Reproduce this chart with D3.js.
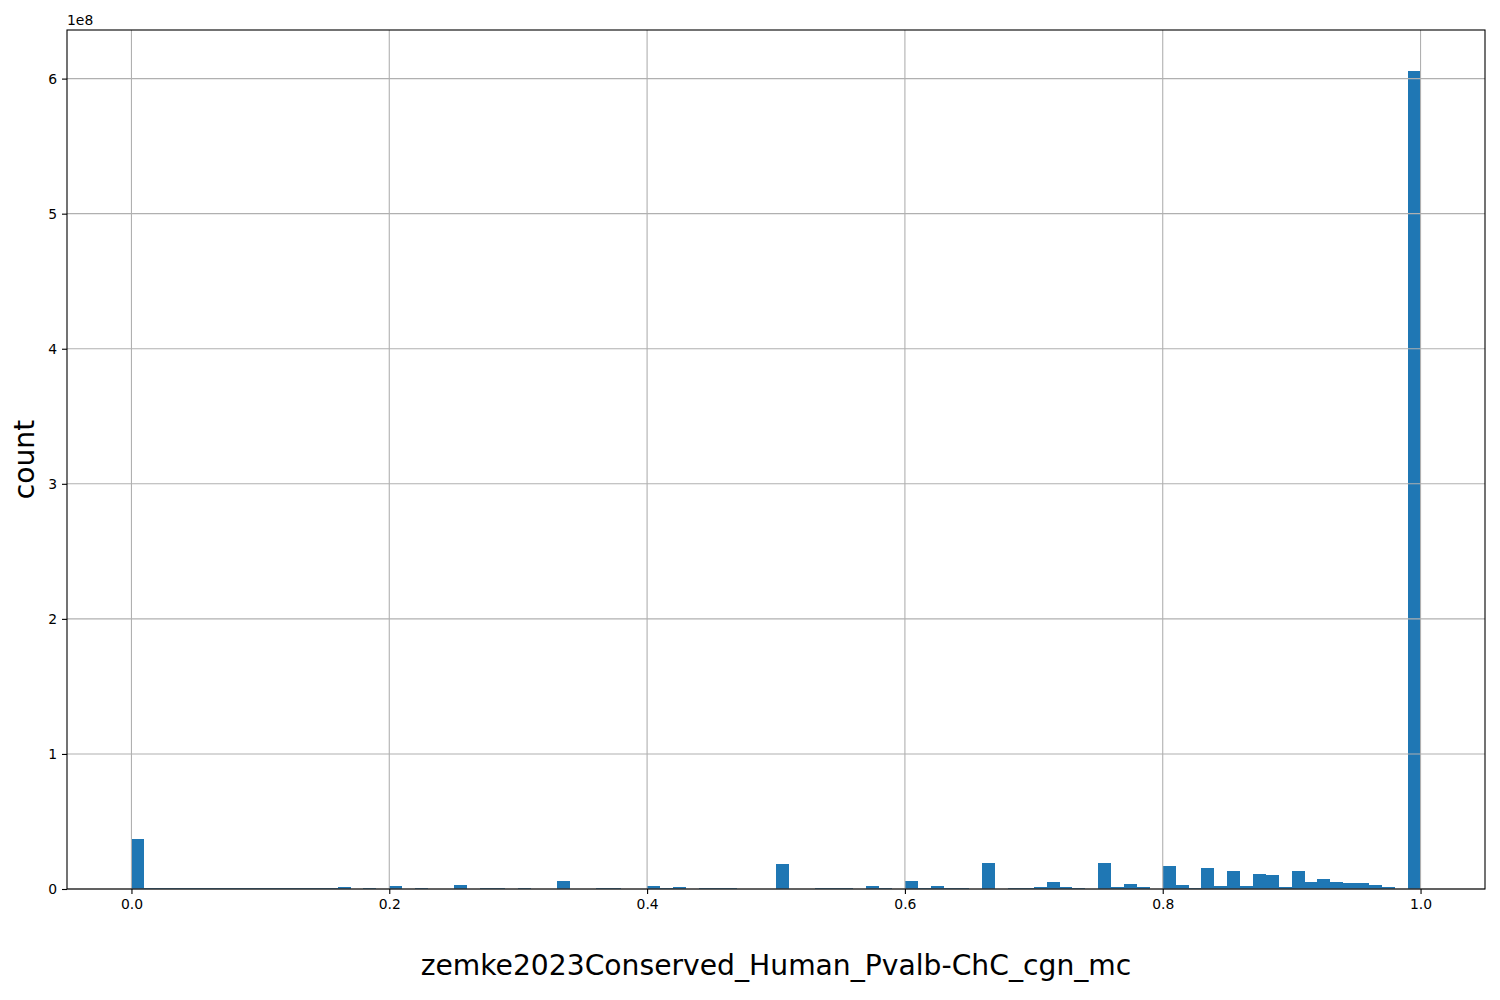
<!DOCTYPE html>
<html>
<head>
<meta charset="utf-8">
<script src="https://cdn.jsdelivr.net/npm/d3@7"></script>
<style>
  body { margin: 0; background: #fff; }
  svg { display: block; font-family: "DejaVu Sans", sans-serif; }
</style>
</head>
<body>
<svg id="chart" width="1500" height="1000"></svg>
<script>
// Histogram: 100 bins over [0, 1]; counts in units of 1e6
const binCount = 100;
const binLow = 0;
const binHigh = 1;
const countsMillions = [
  37, 0.7, 0.7, 0.7, 0.7, 0.7, 0.7, 0.7, 0.7, 0.7,
  0.7, 0.7, 0.7, 0.7, 0.7, 0.7, 1.5, 0, 0.7, 0,
  2.2, 0, 0.7, 0, 0, 3.0, 0, 0.7, 0.7, 0,
  0.7, 0, 0, 5.9, 0, 0, 0.7, 0.7, 0, 0,
  2.2, 0.7, 1.5, 0, 0.7, 0.7, 0.7, 0, 0, 0,
  18.7, 0, 0, 0.7, 0.7, 0.7, 0, 2.2, 0.7, 0,
  5.9, 0.7, 2.2, 0.7, 0.7, 0, 19.3, 0, 0.7, 0.7,
  1.5, 5.2, 1.5, 0.7, 0, 19.3, 1.5, 3.7, 1.5, 0,
  17, 3.0, 0.7, 15.5, 2.2, 13.3, 2.2, 11, 10.4, 1.5,
  13.3, 5.2, 7.4, 5.2, 4.4, 4.4, 3.0, 1.5, 0, 605.7
];
const xTicks = [0.0, 0.2, 0.4, 0.6, 0.8, 1.0];
const yTicks = [0, 1, 2, 3, 4, 5, 6];   // in units of 1e8
const xLabel = "zemke2023Conserved_Human_Pvalb-ChC_cgn_mc";
const yLabel = "count";
const offsetLabel = "1e8";

const margin = { left: 67, right: 1485, top: 30, bottom: 889 };
const svg = d3.select("#chart");

const counts = countsMillions.map(v => v * 1e6);
const binW = (binHigh - binLow) / binCount;
const bins = counts.map((c, i) => ({ x0: binLow + i * binW, x1: binLow + (i + 1) * binW, c }));

const span = binHigh - binLow;
const x = d3.scaleLinear()
  .domain([binLow - 0.05 * span, binHigh + 0.05 * span])
  .range([margin.left, margin.right]);
const yMax = d3.max(counts) * 1.05;
const y = d3.scaleLinear().domain([0, yMax]).range([margin.bottom, margin.top]);

// bars
svg.append("g").selectAll("rect").data(bins.filter(d => d.c > 0)).join("rect")
  .attr("x", d => x(d.x0))
  .attr("width", d => x(d.x1) - x(d.x0))
  .attr("y", d => y(d.c))
  .attr("height", d => y(0) - y(d.c))
  .attr("fill", "#1f77b4")
  .attr("shape-rendering", "crispEdges");

// grid (drawn above bars, as in matplotlib default)
const grid = svg.append("g").attr("stroke", "#b0b0b0").attr("stroke-width", 1.1);
grid.selectAll("line.vx").data(xTicks).join("line")
  .attr("x1", d => x(d)).attr("x2", d => x(d))
  .attr("y1", margin.top).attr("y2", margin.bottom);
grid.selectAll("line.hy").data(yTicks).join("line")
  .attr("y1", d => y(d * 1e8)).attr("y2", d => y(d * 1e8))
  .attr("x1", margin.left).attr("x2", margin.right);

// axes
const xAxis = d3.axisBottom(x).tickValues(xTicks).tickFormat(d3.format(".1f"))
  .tickSizeInner(5).tickSizeOuter(0).tickPadding(5);
const gx = svg.append("g").attr("transform", `translate(0,${margin.bottom})`).call(xAxis);
gx.select(".domain").remove();
gx.selectAll(".tick line").attr("stroke", "#000").attr("stroke-width", 1.1);
gx.selectAll(".tick text").attr("font-size", "13.9px").attr("fill", "#000")
  .attr("font-family", "DejaVu Sans");

const y8 = d3.scaleLinear().domain([0, yMax / 1e8]).range([margin.bottom, margin.top]);
const yAxis = d3.axisLeft(y8).tickValues(yTicks).tickFormat(d3.format("d"))
  .tickSizeInner(5).tickSizeOuter(0).tickPadding(5);
const gy = svg.append("g").attr("transform", `translate(${margin.left},0)`).call(yAxis);
gy.select(".domain").remove();
gy.selectAll(".tick line").attr("stroke", "#000").attr("stroke-width", 1.1);
gy.selectAll(".tick text").attr("font-size", "13.9px").attr("fill", "#000")
  .attr("font-family", "DejaVu Sans");

// frame
svg.append("rect")
  .attr("x", margin.left).attr("y", margin.top)
  .attr("width", margin.right - margin.left).attr("height", margin.bottom - margin.top)
  .attr("fill", "none").attr("stroke", "#000").attr("stroke-width", 1.1);

// offset label
svg.append("text").attr("x", margin.left).attr("y", 25)
  .attr("font-size", "13.9px").attr("fill", "#000").text(offsetLabel);

// axis labels
svg.append("text")
  .attr("x", (margin.left + margin.right) / 2).attr("y", 975)
  .attr("text-anchor", "middle").attr("font-size", "28.2px").attr("fill", "#000")
  .text(xLabel);
svg.append("text")
  .attr("transform", `translate(34,${(margin.top + margin.bottom) / 2}) rotate(-90)`)
  .attr("text-anchor", "middle").attr("font-size", "28.2px").attr("fill", "#000")
  .text(yLabel);
</script>
</body>
</html>
